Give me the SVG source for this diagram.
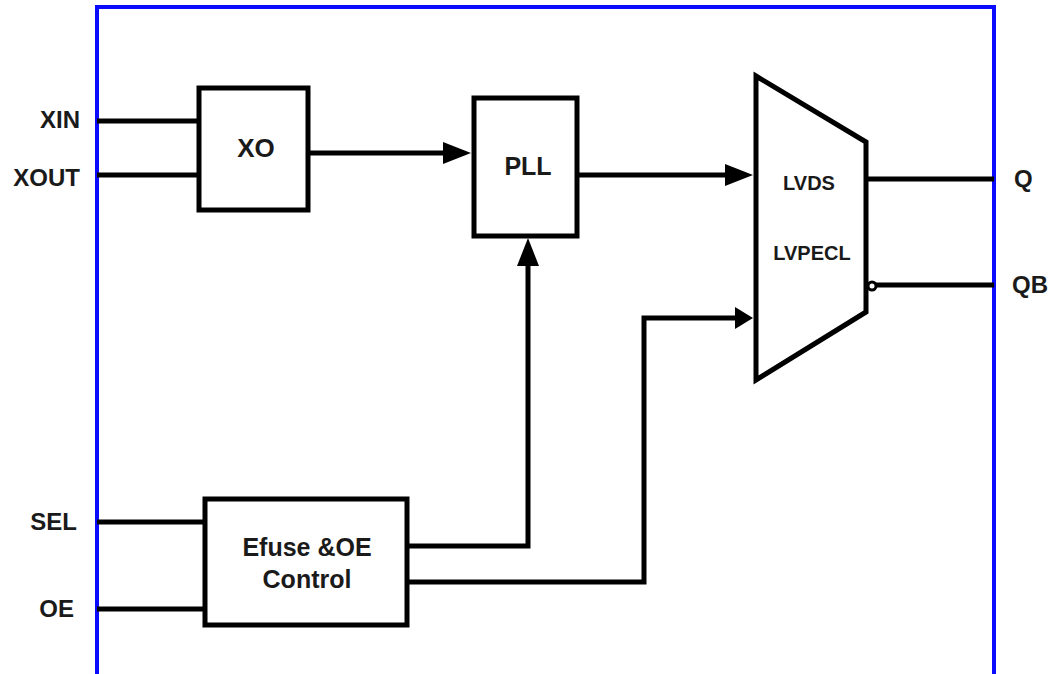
<svg xmlns="http://www.w3.org/2000/svg" width="1052" height="674" viewBox="0 0 1052 674">
  <style>
    .blk { fill: #ffffff; stroke: #000000; stroke-width: 5; stroke-linejoin: miter; }
    .wire { fill: none; stroke: #000000; stroke-width: 5; stroke-linejoin: miter; stroke-linecap: butt; }
    .frame { fill: none; stroke: #0a0aff; stroke-width: 4; }
    .lbl { font-family: "Liberation Sans", Arial, sans-serif; font-weight: bold; fill: #1a1a1a; }
    .pin { font-size: 24px; }
    .blkt { font-size: 25px; text-anchor: middle; }
    .mux { font-size: 20px; text-anchor: middle; }
  </style>
  <defs>
    <marker id="arrow" markerUnits="userSpaceOnUse" markerWidth="28" markerHeight="22" refX="18" refY="11" orient="auto">
      <path d="M0,0 L28,11 L0,22 Z" fill="#000000"/>
    </marker>
    <marker id="arrowShort" markerUnits="userSpaceOnUse" markerWidth="18" markerHeight="22" refX="10" refY="11" orient="auto">
      <path d="M0,0 L18,11 L0,22 Z" fill="#000000"/>
    </marker>
  </defs>
  <rect x="0" y="0" width="1052" height="674" fill="#ffffff"/>

  <g id="frame">
    <path class="frame" d="M97,690 V7 H994 V690"/>
  </g>

  <g id="connectors">
    <path class="wire" d="M97,121 H199"/>
    <path class="wire" d="M97,175 H199"/>
    <path class="wire" d="M308,153 H461" marker-end="url(#arrow)"/>
    <path class="wire" d="M577,175 H743" marker-end="url(#arrow)"/>
    <path class="wire" d="M407,546 H528 V248" marker-end="url(#arrow)"/>
    <path class="wire" d="M407,582 H644 V318 H745" marker-end="url(#arrowShort)"/>
    <path class="wire" d="M866,179 H994"/>
    <path class="wire" d="M876,285 H994"/>
    <path class="wire" d="M97,522 H205"/>
    <path class="wire" d="M97,609 H205"/>
  </g>

  <g id="XO">
    <rect class="blk" x="199" y="88" width="109" height="122"/>
    <text class="lbl blkt" x="256" y="157" style="font-size:26px">XO</text>
  </g>

  <g id="PLL">
    <rect class="blk" x="474" y="98" width="103" height="138"/>
    <text class="lbl blkt" x="528" y="175">PLL</text>
  </g>

  <g id="MUX">
    <polygon class="blk" points="756,76 866,142 866,312 756,380"/>
    <circle cx="872" cy="286" r="4" fill="#ffffff" stroke="#000000" stroke-width="3"/>
    <text class="lbl mux" x="809" y="190">LVDS</text>
    <text class="lbl mux" x="812" y="260">LVPECL</text>
  </g>

  <g id="EFUSE">
    <rect class="blk" x="205" y="499" width="202" height="126"/>
    <text class="lbl blkt" x="307" y="556">Efuse &amp;OE</text>
    <text class="lbl blkt" x="307" y="588">Control</text>
  </g>

  <g id="pins">
    <text class="lbl pin" x="80" y="128" text-anchor="end">XIN</text>
    <text class="lbl pin" x="80" y="186" text-anchor="end">XOUT</text>
    <text class="lbl pin" x="77" y="530" text-anchor="end">SEL</text>
    <text class="lbl pin" x="74" y="617" text-anchor="end">OE</text>
    <text class="lbl pin" x="1014" y="187">Q</text>
    <text class="lbl pin" x="1012" y="293">QB</text>
  </g>
</svg>
